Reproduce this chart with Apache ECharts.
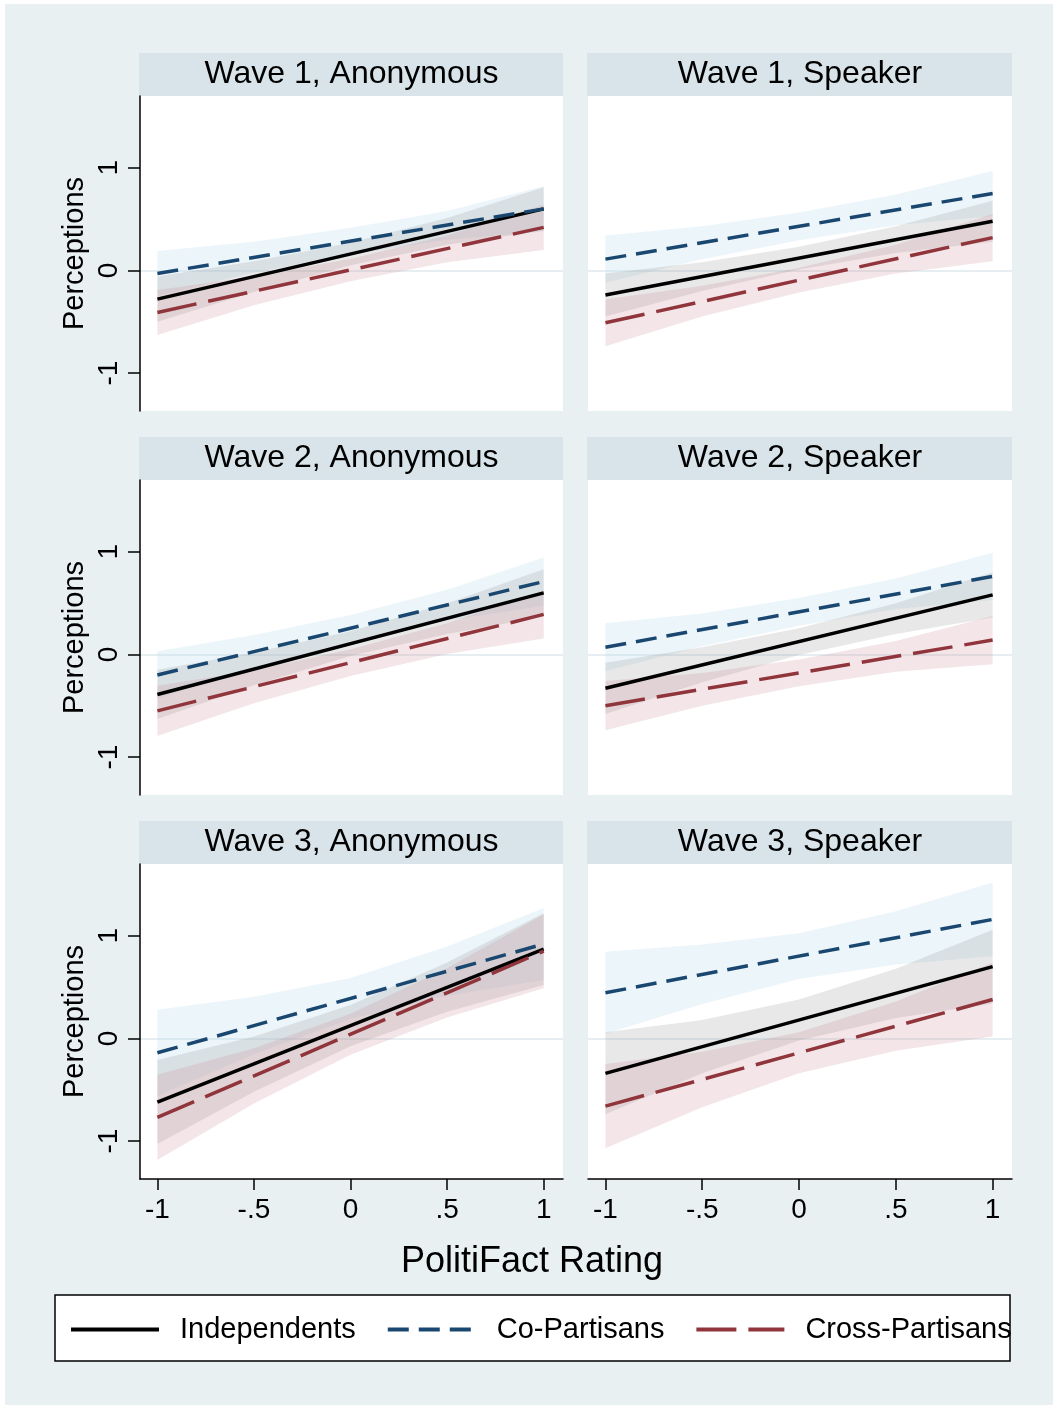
<!DOCTYPE html>
<html>
<head>
<meta charset="utf-8">
<title>Perceptions by PolitiFact Rating</title>
<script src="https://cdn.jsdelivr.net/npm/echarts@6/dist/echarts.min.js"></script>
<style>
  html, body { margin: 0; padding: 0; background: #fff; }
  #chart { width: 1058px; height: 1409px; }
</style>
</head>
<body>
<div id="chart"></div>
<script>
  // panel order: row by row, left column first
  var panelTitles = ['Wave 1, Anonymous', 'Wave 1, Speaker',
                     'Wave 2, Anonymous', 'Wave 2, Speaker',
                     'Wave 3, Anonymous', 'Wave 3, Speaker']
  var groups = ['Independents', 'Co-Partisans', 'Cross-Partisans']
  var xTicks = [-1, -0.5, 0, 0.5, 1]
  var yTicks = [-1, 0, 1]

  // fitted lines, value at rating -1 and at rating 1
  var lineX = [-1, 1]
  var indepLine = [[-0.28, 0.60], [-0.24, 0.48], [-0.39, 0.60], [-0.33, 0.58], [-0.62, 0.87], [-0.34, 0.70]]
  var coLine = [[-0.03, 0.60], [0.11, 0.75], [-0.20, 0.71], [0.07, 0.76], [-0.14, 0.92], [0.445, 1.16]]
  var crossLine = [[-0.41, 0.42], [-0.51, 0.32], [-0.55, 0.39], [-0.50, 0.14], [-0.77, 0.85], [-0.66, 0.38]]

  // confidence bands at these ratings
  var bandX = [-1, -0.5, 0, 0.5, 1]
  var indepLo = [
    [-0.50, -0.21, 0.05, 0.25, 0.39],
    [-0.45, -0.20, 0.01, 0.17, 0.28],
    [-0.63, -0.30, -0.015, 0.20, 0.37],
    [-0.58, -0.27, -0.005, 0.20, 0.36],
    [-1.03, -0.52, -0.075, 0.26, 0.52],
    [-0.74, -0.34, -0.02, 0.20, 0.34]
  ]
  var indepHi = [
    [-0.06, 0.09, 0.27, 0.51, 0.81],
    [-0.03, 0.08, 0.23, 0.43, 0.68],
    [-0.15, 0.02, 0.225, 0.50, 0.83],
    [-0.08, 0.07, 0.255, 0.50, 0.80],
    [-0.21, 0.02, 0.325, 0.74, 1.22],
    [0.06, 0.18, 0.38, 0.68, 1.06]
  ]
  var coLo = [
    [-0.25, -0.02, 0.155, 0.30, 0.38],
    [-0.12, 0.11, 0.295, 0.44, 0.53],
    [-0.43, -0.13, 0.125, 0.33, 0.475],
    [-0.165, 0.08, 0.28, 0.44, 0.53],
    [-0.56, -0.155, 0.19, 0.415, 0.57],
    [0.045, 0.335, 0.58, 0.72, 0.80]
  ]
  var coHi = [
    [0.19, 0.28, 0.415, 0.58, 0.82],
    [0.34, 0.43, 0.565, 0.74, 0.97],
    [0.03, 0.19, 0.385, 0.63, 0.945],
    [0.305, 0.40, 0.55, 0.74, 0.99],
    [0.28, 0.405, 0.59, 0.895, 1.27],
    [0.845, 0.915, 1.025, 1.24, 1.52]
  ]
  var crossLo = [
    [-0.63, -0.34, -0.105, 0.08, 0.20],
    [-0.74, -0.45, -0.215, -0.03, 0.09],
    [-0.795, -0.475, -0.21, 0.005, 0.155],
    [-0.74, -0.50, -0.31, -0.17, -0.095],
    [-1.185, -0.635, -0.16, 0.205, 0.49],
    [-1.07, -0.67, -0.34, -0.12, 0.02]
  ]
  var crossHi = [
    [-0.19, -0.06, 0.115, 0.34, 0.64],
    [-0.28, -0.15, 0.025, 0.25, 0.55],
    [-0.305, -0.155, 0.05, 0.305, 0.625],
    [-0.26, -0.18, -0.05, 0.13, 0.375],
    [-0.355, -0.095, 0.24, 0.685, 1.21],
    [-0.25, -0.13, 0.06, 0.36, 0.74]
  ]

  var FONT = '"Liberation Sans", Arial, Helvetica, sans-serif'
  var colLeft = [140, 588]
  var colWidth = [423, 424]
  var rowTop = [96, 480, 864]
  var plotHeight = 315
  var stripHeight = 43

  // draws a filled band between lo (dim 1) and hi (dim 2)
  function renderBand (params, api) {
    if (params.dataIndexInside !== 0) return
    var n = params.dataInsideLength
    var upper = []
    var lower = []
    for (var i = 0; i < n; i++) {
      upper.push(api.coord([api.value(0, i), api.value(2, i)]))
      lower.unshift(api.coord([api.value(0, i), api.value(1, i)]))
    }
    return {
      type: 'polygon',
      shape: { points: upper.concat(lower) },
      style: { fill: api.visual('color') }
    }
  }

  function bandData (lo, hi) {
    return bandX.map(function (x, i) { return [x, lo[i], hi[i]] })
  }
  function lineData (vals) {
    return lineX.map(function (x, i) { return [x, vals[i]] })
  }

  var grids = []
  var xAxes = []
  var yAxes = []
  var series = []
  var titles = []
  var graphics = [
    // outer background
    { type: 'rect', shape: { x: 5, y: 4, width: 1048, height: 1401 }, style: { fill: '#e8f0f2' }, z: -10 }
  ]

  for (var p = 0; p < 6; p++) {
    var col = p % 2
    var row = Math.floor(p / 2)
    var isLeft = col === 0
    var isBottom = row === 2

    grids.push({
      left: colLeft[col], top: rowTop[row], width: colWidth[col], height: plotHeight,
      show: true, backgroundColor: '#fff', borderWidth: 0
    })

    // strip title
    graphics.push({
      type: 'rect',
      shape: { x: colLeft[col] - 1, y: rowTop[row] - stripHeight, width: colWidth[col] + 1, height: stripHeight },
      style: { fill: '#d8e4ea' },
      z: -5
    })
    titles.push({
      text: panelTitles[p],
      left: colLeft[col] + colWidth[col] / 2,
      top: rowTop[row] - 38,
      textAlign: 'center',
      padding: 0,
      textStyle: { fontSize: 32, fontWeight: 'normal', color: '#000', fontFamily: FONT }
    })

    xAxes.push({
      type: 'value', gridIndex: p, min: -1.09, max: 1.10,
      minInterval: 0.5, maxInterval: 0.5,
      axisLine: { show: isBottom, onZero: false, lineStyle: { color: '#000', width: 1.5 } },
      axisTick: { show: isBottom, length: 11, customValues: xTicks, lineStyle: { color: '#000', width: 1.5 } },
      axisLabel: {
        show: isBottom, customValues: xTicks, margin: 17,
        fontSize: 28, color: '#000', fontFamily: FONT,
        formatter: function (v) { return String(v).replace('0.', '.') }
      },
      splitLine: { show: false }
    })

    yAxes.push({
      type: 'value', gridIndex: p, min: -1.37, max: 1.70,
      minInterval: 1, maxInterval: 1,
      name: isLeft ? 'Perceptions' : '',
      nameLocation: 'middle', nameGap: 51,
      nameTextStyle: { fontSize: 29, color: '#000', fontFamily: FONT },
      axisLine: { show: isLeft, onZero: false, lineStyle: { color: '#000', width: 1.5 } },
      axisTick: { show: isLeft, length: 12, customValues: yTicks, lineStyle: { color: '#000', width: 1.5 } },
      axisLabel: {
        show: isLeft, customValues: yTicks, rotate: 90, margin: 17,
        fontSize: 28, color: '#000', fontFamily: FONT
      },
      splitLine: { show: true, showMinLine: false, showMaxLine: false, lineStyle: { color: '#e6eef1', width: 2 } }
    })

    // bands
    series.push({
      type: 'custom', name: 'ci-co', xAxisIndex: p, yAxisIndex: p, z: 1,
      renderItem: renderBand, encode: { x: 0, y: [1, 2] },
      itemStyle: { color: 'rgba(185,218,236,0.27)' },
      data: bandData(coLo[p], coHi[p])
    })
    series.push({
      type: 'custom', name: 'ci-indep', xAxisIndex: p, yAxisIndex: p, z: 1,
      renderItem: renderBand, encode: { x: 0, y: [1, 2] },
      itemStyle: { color: 'rgba(150,150,150,0.22)' },
      data: bandData(indepLo[p], indepHi[p])
    })
    series.push({
      type: 'custom', name: 'ci-cross', xAxisIndex: p, yAxisIndex: p, z: 1,
      renderItem: renderBand, encode: { x: 0, y: [1, 2] },
      itemStyle: { color: 'rgba(200,130,140,0.2)' },
      data: bandData(crossLo[p], crossHi[p])
    })

    // fitted lines
    series.push({
      type: 'line', name: groups[0], xAxisIndex: p, yAxisIndex: p, z: 3,
      symbol: 'none', color: '#000',
      lineStyle: { color: '#000', width: 3.5 },
      data: lineData(indepLine[p])
    })
    series.push({
      type: 'line', name: groups[1], xAxisIndex: p, yAxisIndex: p, z: 3,
      symbol: 'none', color: '#1a476f',
      lineStyle: { color: '#1a476f', width: 3.5, type: [21, 10] },
      data: lineData(coLine[p])
    })
    series.push({
      type: 'line', name: groups[2], xAxisIndex: p, yAxisIndex: p, z: 3,
      symbol: 'none', color: '#90353b',
      lineStyle: { color: '#90353b', width: 3.5, type: [40, 12] },
      data: lineData(crossLine[p])
    })
  }

  // x axis title, shared by the bottom row
  titles.push({
    text: 'PolitiFact Rating',
    left: 532, top: 1244, textAlign: 'center', padding: 0,
    textStyle: { fontSize: 36, fontWeight: 'normal', color: '#000', fontFamily: FONT }
  })

  // legend box
  graphics.push({
    type: 'rect',
    shape: { x: 55, y: 1295, width: 955, height: 66 },
    style: { fill: '#fff', stroke: '#000', lineWidth: 1.5 },
    z: -1
  })

  var chart = echarts.init(document.getElementById('chart'))
  chart.setOption({
    animation: false,
    backgroundColor: '#fff',
    textStyle: { fontFamily: FONT },
    title: titles,
    grid: grids,
    xAxis: xAxes,
    yAxis: yAxes,
    legend: {
      data: groups,
      left: 69, top: 1315,
      padding: 0,
      itemWidth: 88, itemHeight: 16, itemGap: 30,
      selectedMode: false,
      itemStyle: { opacity: 0, borderWidth: 0 },
      lineStyle: { width: 4 },
      textStyle: { fontSize: 29, color: '#000', fontFamily: FONT, padding: [0, 0, 0, 16] }
    },
    graphic: graphics,
    series: series
  })
</script>
</body>
</html>
